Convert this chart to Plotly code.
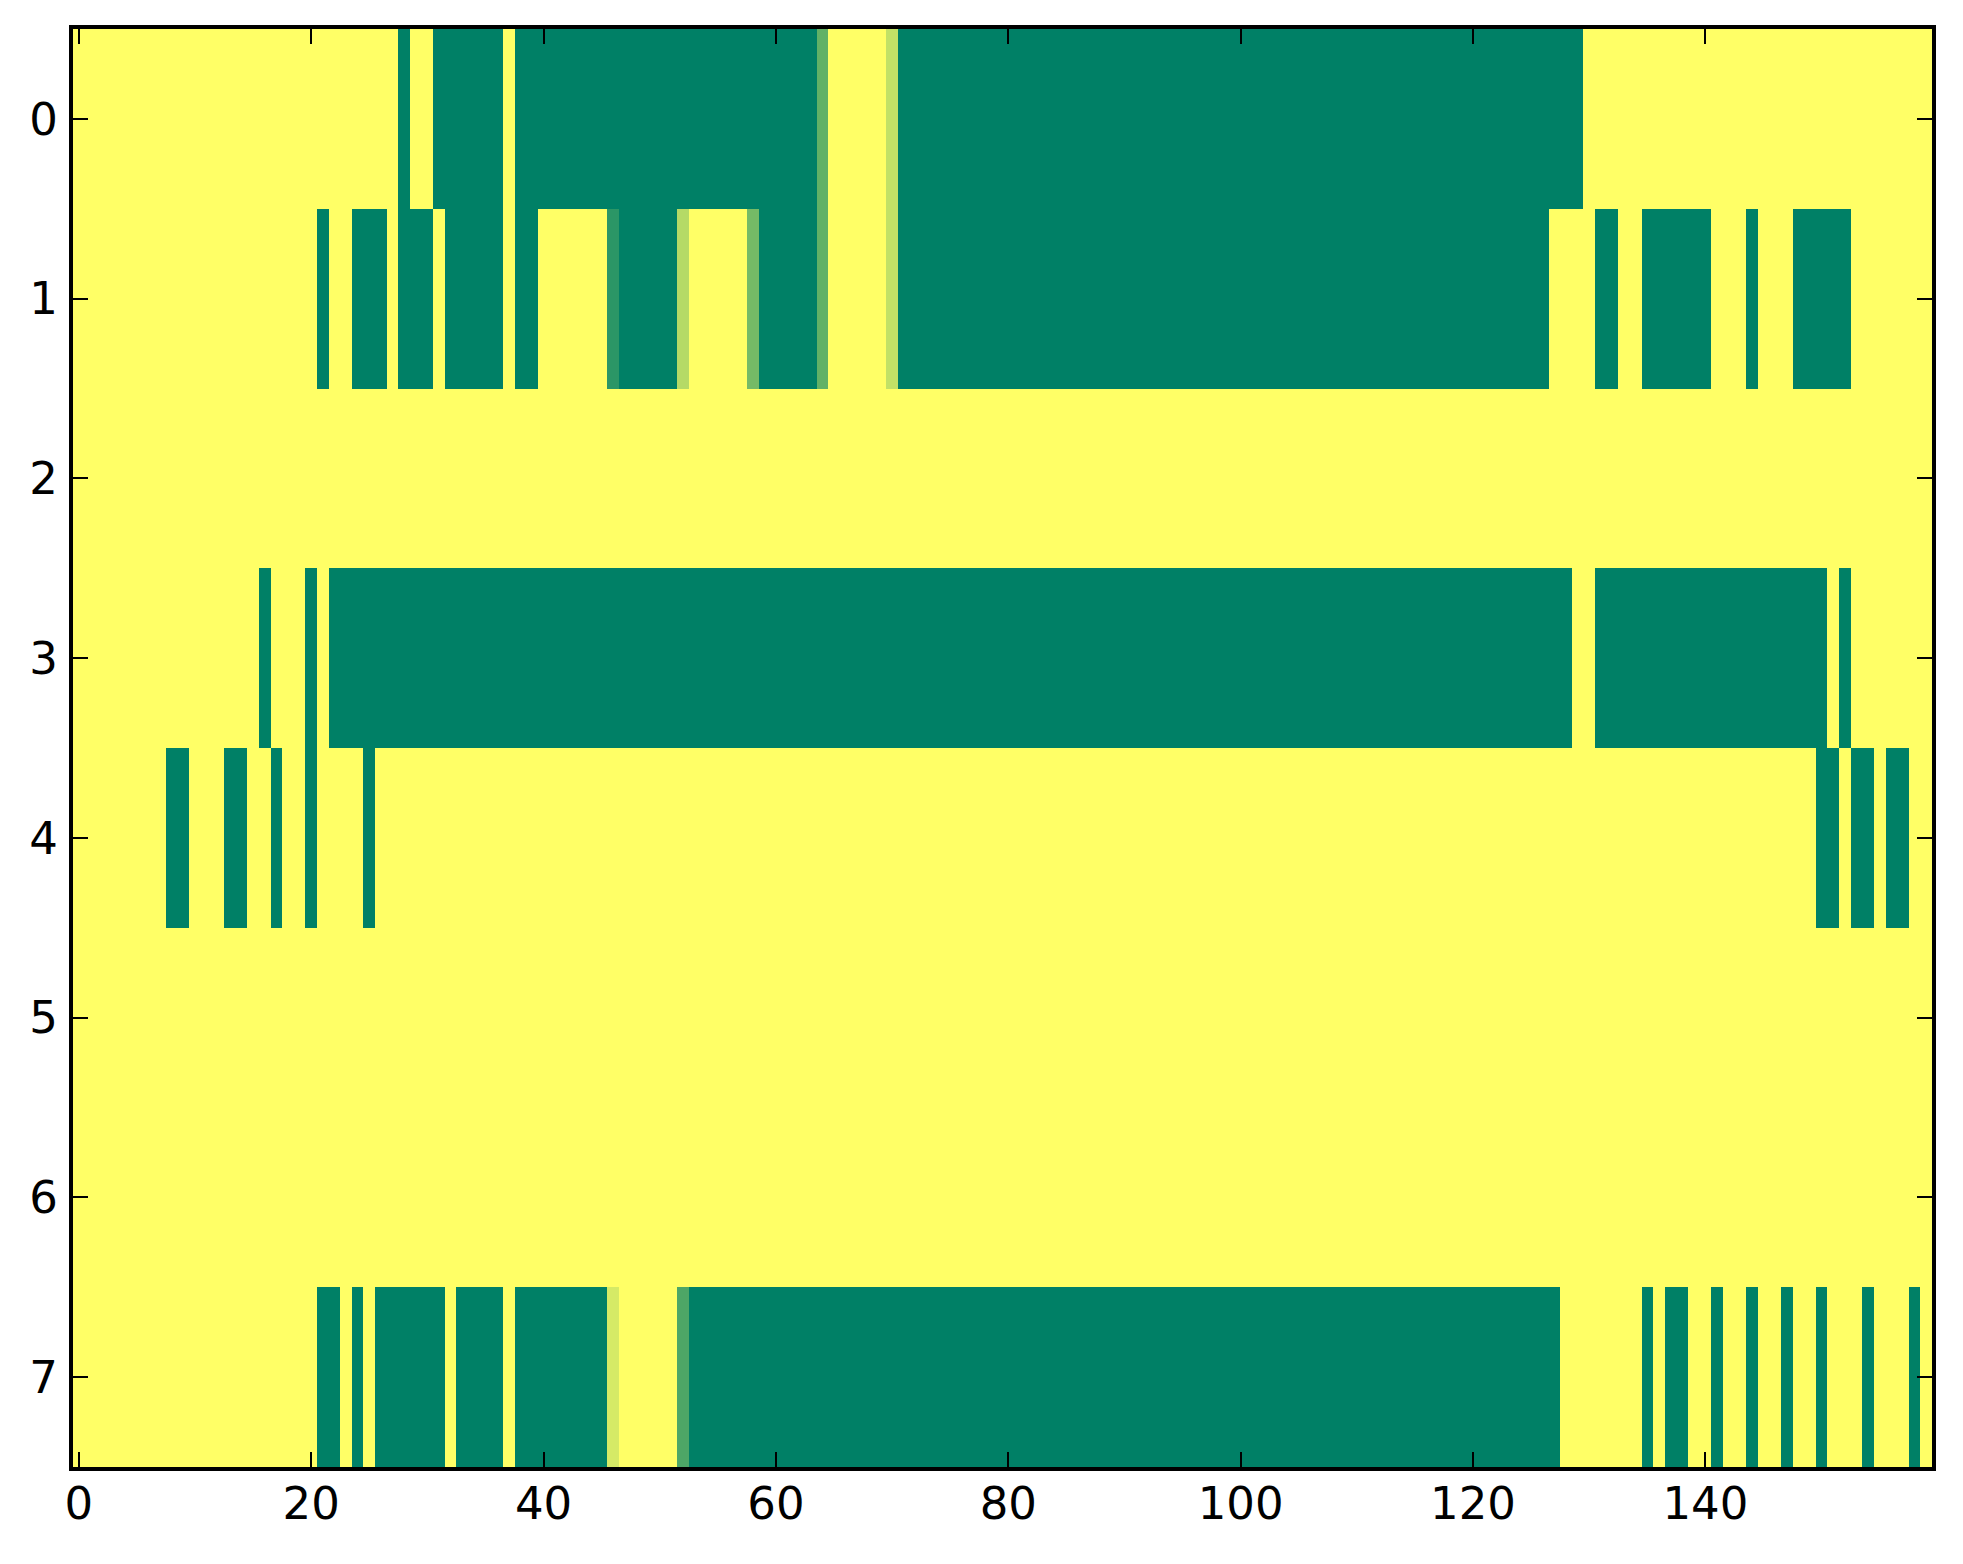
import numpy as np
import plotly.graph_objects as go

# each row of the image as (value, run length) pairs, left to right
row_0 = [(1, 28), (0, 1), (1, 2), (0, 6), (1, 1), (0, 26), (0.385, 1), (1, 5),
         (0.76, 1), (0, 59), (1, 30)]
row_1 = [(1, 21), (0, 1), (1, 2), (0, 3), (1, 1), (0, 3), (1, 1), (0, 5), (1, 1),
         (0, 2), (1, 6), (0.17, 1), (0, 5), (0.71, 1), (1, 5), (0.46, 1), (0, 5),
         (0.385, 1), (1, 5), (0.76, 1), (0, 56), (1, 4), (0, 2), (1, 2), (0, 6),
         (1, 3), (0, 1), (1, 3), (0, 5), (1, 7)]
row_2 = [(1, 160)]
row_3 = [(1, 16), (0, 1), (1, 3), (0, 1), (1, 1), (0, 107), (1, 2), (0, 20),
         (1, 1), (0, 1), (1, 7)]
row_4 = [(1, 8), (0, 2), (1, 3), (0, 2), (1, 2), (0, 1), (1, 2), (0, 1), (1, 4),
         (0, 1), (1, 124), (0, 2), (1, 1), (0, 2), (1, 1), (0, 2), (1, 2)]
row_5 = [(1, 160)]
row_6 = [(1, 160)]
row_7 = [(1, 21), (0, 2), (1, 1), (0, 1), (1, 1), (0, 6), (1, 1), (0, 4), (1, 1),
         (0, 8), (0.835, 1), (1, 5), (0.30, 1), (0, 75), (1, 7), (0, 1), (1, 1),
         (0, 2), (1, 2), (0, 1), (1, 2), (0, 1), (1, 2), (0, 1), (1, 2), (0, 1),
         (1, 3), (0, 1), (1, 3), (0, 1), (1, 1)]

rows = [row_0, row_1, row_2, row_3, row_4, row_5, row_6, row_7]
x_ticks = [0, 20, 40, 60, 80, 100, 120, 140]
y_ticks = [0, 1, 2, 3, 4, 5, 6, 7]


def expand(runs):
    out = []
    for val, n in runs:
        out += [val] * n
    return out


z = np.array([expand(r) for r in rows])
n_rows, n_cols = z.shape

# matplotlib "summer" colormap
summer = [[0, "rgb(0,128,102)"], [1, "rgb(255,255,102)"]]

fig = go.Figure(go.Heatmap(
    z=z,
    x=list(range(n_cols)),
    y=list(range(n_rows)),
    colorscale=summer,
    zmin=0, zmax=1,
    showscale=False,
    hoverinfo="skip"))

axis_style = dict(
    showline=True, linecolor="black", linewidth=4, mirror="ticks",
    ticks="inside", ticklen=15, tickwidth=2, tickcolor="black",
    showgrid=False, zeroline=False,
    tickfont=dict(family="DejaVu Sans", size=45, color="black"))

fig.update_xaxes(range=[-0.5, n_cols - 0.5], tickvals=x_ticks,
                 ticklabelstandoff=-6, **axis_style)
fig.update_yaxes(range=[n_rows - 0.5, -0.5], tickvals=y_ticks,
                 ticklabelstandoff=2, **axis_style)

# page body adds ~8px offset, margins compensate
fig.update_layout(
    width=1963, height=1564,
    margin=dict(l=65, r=39, t=21, b=105),
    paper_bgcolor="white", plot_bgcolor="white",
    showlegend=False)

fig.write_html("out.html")
